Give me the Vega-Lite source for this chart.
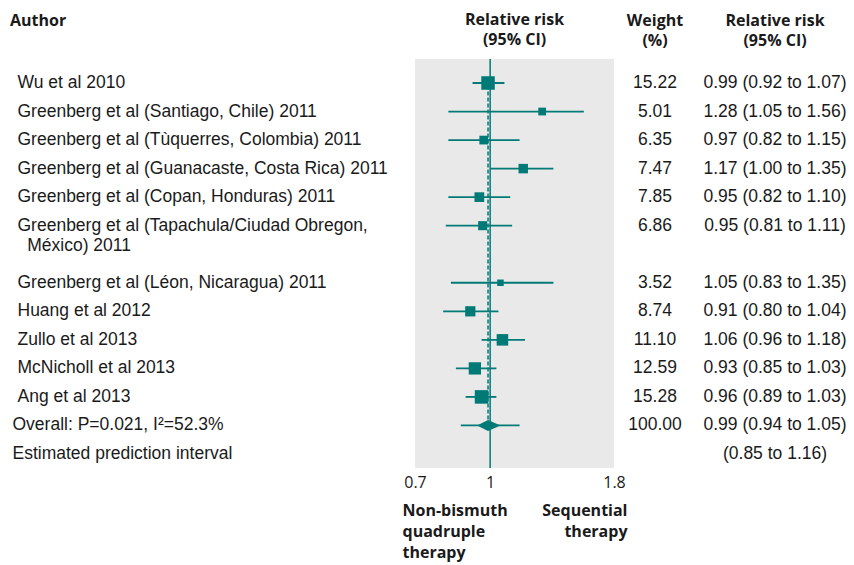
{
  "$schema": "https://vega.github.io/schema/vega-lite/v6.json",
  "padding": {"left": 0, "right": 0, "top": 12, "bottom": 5},
  "bounds": "flush",
  "spacing": 0,
  "background": "white",
  "config": {
    "view": {"stroke": null},
    "font": "Open Sans",
    "title": {"font": "Open Sans", "fontSize": 16, "fontWeight": "bold", "color": "#1a1a1a", "lineHeight": 20, "offset": 10},
    "text": {"font": "Liberation Sans", "fontSize": 17.5, "color": "#1a1a1a"},
    "axis": {"labelFont": "Open Sans", "titleFont": "Open Sans"}
  },
  "datasets": {
    "rows": [
      {"id": "wu", "label": "Wu et al 2010", "kind": "study", "weight": 15.22, "rr": 0.99, "lo": 0.92, "hi": 1.07, "ci": "0.99 (0.92 to 1.07)"},
      {"id": "santiago", "label": "Greenberg et al (Santiago, Chile) 2011", "kind": "study", "weight": 5.01, "rr": 1.28, "lo": 0.82, "hi": 1.56, "ci": "1.28 (1.05 to 1.56)"},
      {"id": "tuquerres", "label": "Greenberg et al (Tùquerres, Colombia) 2011", "kind": "study", "weight": 6.35, "rr": 0.97, "lo": 0.82, "hi": 1.15, "ci": "0.97 (0.82 to 1.15)"},
      {"id": "guanacaste", "label": "Greenberg et al (Guanacaste, Costa Rica) 2011", "kind": "study", "weight": 7.47, "rr": 1.17, "lo": 1.0, "hi": 1.35, "ci": "1.17 (1.00 to 1.35)"},
      {"id": "copan", "label": "Greenberg et al (Copan, Honduras) 2011", "kind": "study", "weight": 7.85, "rr": 0.95, "lo": 0.82, "hi": 1.1, "ci": "0.95 (0.82 to 1.10)"},
      {"id": "tapachula", "label": "Greenberg et al (Tapachula/Ciudad Obregon,\n\u200b\u00a0\u00a0México) 2011", "kind": "study", "weight": 6.86, "rr": 0.965, "lo": 0.81, "hi": 1.11, "ci": "0.95 (0.81 to 1.11)"},
      {"id": "leon", "label": "Greenberg et al (Léon, Nicaragua) 2011", "kind": "study", "weight": 3.52, "rr": 1.05, "lo": 0.83, "hi": 1.35, "ci": "1.05 (0.83 to 1.35)"},
      {"id": "huang", "label": "Huang et al 2012", "kind": "study", "weight": 8.74, "rr": 0.91, "lo": 0.8, "hi": 1.04, "ci": "0.91 (0.80 to 1.04)"},
      {"id": "zullo", "label": "Zullo et al 2013", "kind": "study", "weight": 11.1, "rr": 1.06, "lo": 0.96, "hi": 1.18, "ci": "1.06 (0.96 to 1.18)"},
      {"id": "mcnicholl", "label": "McNicholl et al 2013", "kind": "study", "weight": 12.59, "rr": 0.93, "lo": 0.85, "hi": 1.03, "ci": "0.93 (0.85 to 1.03)"},
      {"id": "ang", "label": "Ang et al 2013", "kind": "study", "weight": 15.28, "rr": 0.96, "lo": 0.89, "hi": 1.03, "ci": "0.96 (0.89 to 1.03)"},
      {"id": "overall", "label": "Overall: P=0.021, I²=52.3%", "kind": "summary", "weight": 100.0, "rr": 0.99, "lo": 0.94, "hi": 1.05, "pred_lo": 0.87, "pred_hi": 1.15, "ci": "0.99 (0.94 to 1.05)"},
      {"id": "est", "label": "Estimated prediction interval", "kind": "summary", "weight": null, "ci": "(0.85 to 1.16)"}
    ]
  },
  "hconcat": [
    {
      "width": 415,
      "height": 409,
      "title": {"text": "Author", "anchor": "start", "dx": 10, "offset": 30},
      "data": {"name": "rows"},
      "mark": {"type": "text", "align": "left", "baseline": "middle", "lineBreak": "\n", "lineHeight": 20},
      "encoding": {
        "x": {"field": "kind", "type": "nominal", "scale": {"domain": ["study", "summary"], "range": [20, 10]}, "axis": null},
        "y": {"field": "id", "type": "nominal", "scale": {"type": "point", "domain": ["wu", "santiago", "tuquerres", "guanacaste", "copan", "tapachula", "gap", "leon", "huang", "zullo", "mcnicholl", "ang", "overall", "est"], "range": [24, 395], "padding": 0}, "axis": null},
        "text": {"field": "label", "type": "nominal"}
      }
    },
    {
      "width": 199,
      "height": 409,
      "view": {"fill": "#e9e9e9", "stroke": null},
      "title": {"text": ["Relative risk", "(95% CI)"], "anchor": "middle"},
      "data": {"name": "rows"},
      "resolve": {"axis": {"x": "independent"}},
      "layer": [
        {
          "transform": [{"filter": "datum.id === 'overall'"}],
          "mark": {"type": "rule", "color": "#007a77", "strokeWidth": 1.5},
          "encoding": {
            "x": {"datum": 1, "type": "quantitative", "scale": {"type": "log", "domain": [0.7, 1.8], "nice": false}, "axis": null}
          }
        },
        {
          "transform": [{"filter": "datum.id === 'overall'"}],
          "mark": {"type": "rule", "color": "#007a77", "strokeWidth": 1.5, "strokeDash": [4, 2]},
          "encoding": {
            "x": {"field": "rr", "type": "quantitative", "scale": {"type": "log", "domain": [0.7, 1.8], "nice": false}, "axis": null},
            "y": {"field": "id", "type": "nominal", "scale": {"type": "point", "domain": ["wu", "santiago", "tuquerres", "guanacaste", "copan", "tapachula", "gap", "leon", "huang", "zullo", "mcnicholl", "ang", "overall", "est"], "range": [24, 395], "padding": 0}, "axis": null},
            "y2": {"datum": "wu"}
          }
        },
        {
          "transform": [{"filter": "datum.kind === 'study'"}],
          "mark": {"type": "rule", "color": "#007a77", "strokeWidth": 1.8},
          "encoding": {
            "x": {"field": "lo", "type": "quantitative", "scale": {"type": "log", "domain": [0.7, 1.8], "nice": false},
              "axis": {"orient": "bottom", "values": [0.7, 1, 1.8], "format": "~g", "domain": false, "ticks": false, "tickSize": 0, "grid": false, "labelPadding": 6, "labelFontSize": 16, "labelColor": "#1a1a1a", "labelFlush": false, "labelOverlap": false,
                "title": ["Non-bismuth", "quadruple", "therapy"], "titleFontSize": 16, "titleFontWeight": "bold", "titleColor": "#1a1a1a", "titleLineHeight": 21, "titleBaseline": "top", "titleAlign": "left", "titleAnchor": "start", "titleX": -13, "titleY": 34}},
            "x2": {"field": "hi"},
            "y": {"field": "id", "type": "nominal", "scale": {"type": "point", "domain": ["wu", "santiago", "tuquerres", "guanacaste", "copan", "tapachula", "gap", "leon", "huang", "zullo", "mcnicholl", "ang", "overall", "est"], "range": [24, 395], "padding": 0}, "axis": null}
          }
        },
        {
          "transform": [{"filter": "datum.kind === 'study'"}],
          "mark": {"type": "square", "color": "#007a77", "filled": true, "opacity": 1},
          "encoding": {
            "x": {"field": "rr", "type": "quantitative", "scale": {"type": "log", "domain": [0.7, 1.8], "nice": false}, "axis": null},
            "y": {"field": "id", "type": "nominal", "scale": {"type": "point", "domain": ["wu", "santiago", "tuquerres", "guanacaste", "copan", "tapachula", "gap", "leon", "huang", "zullo", "mcnicholl", "ang", "overall", "est"], "range": [24, 395], "padding": 0}, "axis": null},
            "size": {"field": "weight", "type": "quantitative", "scale": {"type": "linear", "domain": [0, 16], "range": [0, 192]}, "legend": null}
          }
        },
        {
          "transform": [{"filter": "datum.id === 'overall'"}],
          "mark": {"type": "rule", "color": "#007a77", "strokeWidth": 1.8},
          "encoding": {
            "x": {"field": "pred_lo", "type": "quantitative", "scale": {"type": "log", "domain": [0.7, 1.8], "nice": false},
              "axis": {"orient": "bottom", "labels": false, "domain": false, "ticks": false, "tickSize": 0, "grid": false,
                "title": ["Sequential", "therapy"], "titleFontSize": 16, "titleFontWeight": "bold", "titleColor": "#1a1a1a", "titleLineHeight": 21, "titleBaseline": "top", "titleAlign": "right", "titleAnchor": "end", "titleX": 212, "titleY": 34}},
            "x2": {"field": "pred_hi"},
            "y": {"field": "id", "type": "nominal", "scale": {"type": "point", "domain": ["wu", "santiago", "tuquerres", "guanacaste", "copan", "tapachula", "gap", "leon", "huang", "zullo", "mcnicholl", "ang", "overall", "est"], "range": [24, 395], "padding": 0}, "axis": null}
          }
        },
        {
          "transform": [{"filter": "datum.id === 'overall'"}],
          "mark": {"type": "point", "shape": "M-0.936,0L0,-0.472L1.064,0L0,0.472Z", "size": 543, "filled": true, "opacity": 1, "color": "#007a77", "strokeWidth": 0},
          "encoding": {
            "x": {"field": "rr", "type": "quantitative", "scale": {"type": "log", "domain": [0.7, 1.8], "nice": false}, "axis": null},
            "y": {"field": "id", "type": "nominal", "scale": {"type": "point", "domain": ["wu", "santiago", "tuquerres", "guanacaste", "copan", "tapachula", "gap", "leon", "huang", "zullo", "mcnicholl", "ang", "overall", "est"], "range": [24, 395], "padding": 0}, "axis": null}
          }
        }
      ]
    },
    {
      "width": 82,
      "height": 409,
      "title": {"text": ["Weight", "(%)"], "anchor": "middle"},
      "data": {"name": "rows"},
      "transform": [{"filter": "isValid(datum.weight)"}],
      "mark": {"type": "text", "align": "center", "baseline": "middle"},
      "encoding": {
        "y": {"field": "id", "type": "nominal", "scale": {"type": "point", "domain": ["wu", "santiago", "tuquerres", "guanacaste", "copan", "tapachula", "gap", "leon", "huang", "zullo", "mcnicholl", "ang", "overall", "est"], "range": [24, 395], "padding": 0}, "axis": null},
        "text": {"field": "weight", "type": "quantitative", "format": ".2f"}
      }
    },
    {
      "width": 158,
      "height": 409,
      "title": {"text": ["Relative risk", "(95% CI)"], "anchor": "middle"},
      "data": {"name": "rows"},
      "mark": {"type": "text", "align": "center", "baseline": "middle"},
      "encoding": {
        "y": {"field": "id", "type": "nominal", "scale": {"type": "point", "domain": ["wu", "santiago", "tuquerres", "guanacaste", "copan", "tapachula", "gap", "leon", "huang", "zullo", "mcnicholl", "ang", "overall", "est"], "range": [24, 395], "padding": 0}, "axis": null},
        "text": {"field": "ci", "type": "nominal"}
      }
    }
  ]
}
